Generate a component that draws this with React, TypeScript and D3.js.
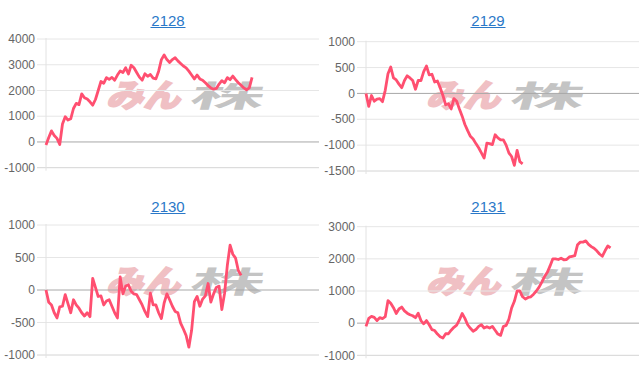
import React from "react";
import * as d3 from "d3";

const titles = ["2128", "2129", "2130", "2131"];

const values2128 = [
  -120, 170, 430, 250, 140, -100, 700, 980, 850, 900, 1300, 1500, 1450, 1870, 1720, 1670, 1560, 1430, 1650, 2000,
  2350, 2280, 2500, 2430, 2510, 2400, 2600, 2760, 2700, 2880, 2640, 2980, 2880, 2700, 2520, 2400, 2650, 2550, 2620, 2480,
  2450, 2750, 3200, 3380, 3200, 3090, 3200, 3270, 3150, 3050, 2950, 2880, 2750, 2600, 2450, 2600, 2450, 2400, 2300, 2190,
  2100, 2050, 2080, 2250, 2380, 2300, 2500, 2420, 2560, 2420, 2300, 2200, 2100, 2030, 2100, 2510,
];

const values2129 = [
  0, -250, -40, -150, -110, -100, -160, 60, 380, 510, 300, 260, 180, 110, 250, 340, 300, 250, 80, 250,
  250, 420, 530, 360, 370, 220, 240, 110, -40, -220, -200, -300, -100, -150, -300, -440, -600, -720, -830, -880,
  -970, -1050, -1150, -1250, -960, -970, -990, -800, -860, -900, -900, -1000, -1150, -1220, -1390, -1100, -1320, -1360,
];

const values2130 = [
  0, -190, -230, -350, -430, -260, -250, -70, -210, -350, -150, -230, -280, -350, -400, -350, -410, 180, 40, -100,
  -90, -230, -170, -150, -250, -350, -430, 200, -60, 60, 80, -20, -60, -70, -150, -230, -330, -410, -50, -230,
  -230, -350, -440, -200, -60, -150, -250, -330, -350, -510, -600, -700, -880, -620, -180, -100, -250, -140, -90, 100,
  -185, -60, 40, 60, -300, -50, 380, 690, 550, 490, 300, 225,
];

const values2131 = [
  -100, 150, 210, 180, 80, 170, 140, 200, 700, 620, 480, 300, 440, 500, 380, 310, 260, 230, 170, 310,
  80, -20, 80, -50, -200, -230, -340, -420, -460, -330, -330, -220, -130, -60, 100, 300, 150, -50, -160, -250,
  -200, -100, -50, -150, -110, -150, -100, -220, -340, -380, -105, -70, 120, 470, 680, 1000, 1000, 820, 750, 800,
  820, 900, 1000, 1120, 1280, 1450, 1580, 1780, 2000, 2000, 1980, 2020, 1970, 1980, 2060, 2080, 2100, 2440, 2520, 2520,
  2560, 2450, 2380, 2330, 2250, 2150, 2080, 2250, 2400, 2340,
];

const ticks2128 = [4000, 3000, 2000, 1000, 0, -1000];
const ticks2129 = [1000, 500, 0, -500, -1000, -1500];
const ticks2130 = [1000, 500, 0, -500, -1000];
const ticks2131 = [3000, 2000, 1000, 0, -1000];

const seriesList = [values2128, values2129, values2130, values2131];
const tickList = [ticks2128, ticks2129, ticks2130, ticks2131];

const layouts = [
  { ox: 0, oy: 0, top: 39, bottom: 167.7 },
  { ox: 320, oy: 0, top: 41.7, bottom: 171 },
  { ox: 0, oy: 186, top: 225, bottom: 355 },
  { ox: 320, oy: 186, top: 226.7, bottom: 355.3 },
];

const LINE = "#ff4f70";
const FONT = "'Liberation Sans', Arial, Helvetica, sans-serif";

function Panel({ idx }: { idx: number }) {
  const L = layouts[idx];
  const data = seriesList[idx];
  const ticks = tickList[idx];
  const x = d3.scaleLinear().domain([0, 99]).range([L.ox + 46, L.ox + 318]);
  const y = d3
    .scaleLinear()
    .domain([ticks[ticks.length - 1], ticks[0]])
    .range([L.bottom, L.top]);
  const line = d3
    .line<number>()
    .x((_, i) => x(i))
    .y((d) => y(d));
  const tcx = L.ox + 168;
  const tBase = L.oy + 26;
  const bottomTick = ticks[ticks.length - 1];
  const wy = L.oy + 107;
  return (
    <g>
      {/* watermark */}
      <g transform={`translate(${L.ox + 184},${wy}) skewX(-16)`}>
        <text
          x={-78}
          y={0}
          fontFamily="'Noto Sans CJK JP', sans-serif"
          fontWeight={900}
          fontSize={32}
          fill="#f0c0c4"
          stroke="#f0c0c4"
          strokeWidth={1.5}
          textLength={74}
          lengthAdjust="spacingAndGlyphs"
        >
          みん
        </text>
        <text
          x={4}
          y={0}
          fontFamily="'Noto Sans CJK JP', sans-serif"
          fontWeight={700}
          fontSize={30}
          fill="#c4c4c4"
          textLength={74}
          lengthAdjust="spacingAndGlyphs"
        >
          株
        </text>
      </g>
      {/* title */}
      <text
        x={tcx}
        y={tBase}
        textAnchor="middle"
        fontFamily={FONT}
        fontSize={15}
        fill="#2a78c8"
      >
        {titles[idx]}
      </text>
      <line x1={tcx - 17.5} x2={tcx + 17.5} y1={tBase + 1.5} y2={tBase + 1.5} stroke="#2a78c8" strokeWidth={1} />
      {/* grid */}
      {ticks.map((t) => (
        <g key={t}>
          <line
            x1={L.ox + 37}
            x2={L.ox + 319}
            y1={y(t)}
            y2={y(t)}
            stroke={t === 0 ? "#a8a8a8" : t === bottomTick ? "#d4d4d4" : "#e6e6e6"}
            strokeWidth={1}
          />
          <text
            x={L.ox + 35}
            y={y(t)}
            dy="0.35em"
            textAnchor="end"
            fontFamily={FONT}
            fontSize={12}
            fill="#666"
          >
            {t}
          </text>
        </g>
      ))}
      <line x1={L.ox + 46} x2={L.ox + 46} y1={L.top - 1} y2={L.bottom + 3} stroke="#e2e2e2" strokeWidth={1} />
      <path d={line(data) || ""} fill="none" stroke={LINE} strokeWidth={2.8} strokeLinejoin="round" />
    </g>
  );
}

export default function App() {
  return (
    <svg
      width={640}
      height={372}
      style={{ position: "absolute", left: 0, top: 0, background: "#fff" }}
    >
      <rect x={0} y={0} width={640} height={372} fill="#fff" />
      {[0, 1, 2, 3].map((i) => (
        <Panel key={i} idx={i} />
      ))}
    </svg>
  );
}
